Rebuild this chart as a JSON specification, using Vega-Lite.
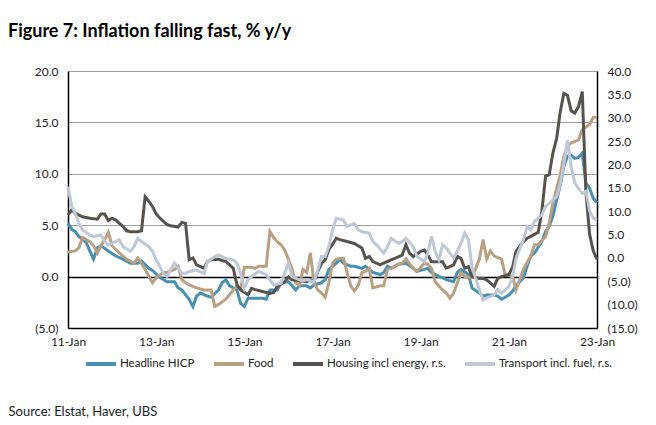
{
  "$schema": "https://vega.github.io/schema/vega-lite/v6.json",
  "width": 529,
  "height": 257,
  "autosize": {"type": "none"},
  "padding": {"left": 68, "top": 71, "right": 59, "bottom": 97},
  "background": "white",
  "config": {
    "font": "Lato",
    "view": {"stroke": null},
    "axis": {"labelFont": "Lato", "labelFontSize": 12, "labelColor": "#222", "ticks": false, "domainColor": "#000", "domainWidth": 1.5, "titleFont": "Lato"}
  },
  "title": {"text": "Figure 7: Inflation falling fast, % y/y", "anchor": "start", "frame": "group", "dx": -60, "offset": 24, "fontSize": 18, "fontWeight": "bold", "font": "Lato", "color": "#000"},
  "encoding": {
    "x": {
      "field": "d", "type": "temporal",
      "scale": {"domain": [{"year": 2011, "month": 1, "date": 1}, {"year": 2023, "month": 1, "date": 1}]},
      "axis": {
        "values": [{"year": 2011, "month": 1, "date": 1}, {"year": 2013, "month": 1, "date": 1}, {"year": 2015, "month": 1, "date": 1}, {"year": 2017, "month": 1, "date": 1}, {"year": 2019, "month": 1, "date": 1}, {"year": 2021, "month": 1, "date": 1}, {"year": 2023, "month": 1, "date": 1}],
        "format": "%y-%b", "labelPadding": 8, "grid": false, "labelOverlap": false, "labelFlush": false,
        "title": "Source: Elstat, Haver, UBS", "titleX": -60, "titleY": 87, "titleAlign": "left", "titleAnchor": "start",
        "titleBaseline": "alphabetic", "titleFontSize": 13, "titleFontWeight": "normal", "titleColor": "#222"
      }
    }
  },
  "layer": [
    {
      "encoding": {
        "y": {
          "field": "v", "type": "quantitative",
          "scale": {"domain": [-5, 20], "nice": false, "zero": false},
          "axis": {
            "orient": "left", "values": [-5, 0, 5, 10, 15, 20], "title": null, "labelPadding": 10,
            "labelExpr": "datum.value < 0 ? '(' + format(-datum.value, '.1f') + ')' : format(datum.value, '.1f')",
            "grid": true,
            "gridColor": {"condition": {"test": "datum.value === 0", "value": "#000"}, "value": "#a0a0a0"},
            "gridWidth": {"condition": {"test": "datum.value === 0", "value": 1.5}, "value": 1}
          }
        }
      },
      "layer": [
        {
          "data": {"format": {"parse": {"d": "date:'%Y-%m'"}}, "values": [
            {"d":"2011-01","v":5.2},{"d":"2011-02","v":4.6},{"d":"2011-03","v":4.4},{"d":"2011-04","v":3.9},{"d":"2011-06","v":3.3},{"d":"2011-07","v":2.5},{"d":"2011-08","v":1.7},{"d":"2011-09","v":2.8},{"d":"2011-10","v":3.0},{"d":"2011-12","v":2.5},
            {"d":"2012-02","v":2.0},{"d":"2012-04","v":1.7},{"d":"2012-06","v":1.3},{"d":"2012-08","v":1.3},{"d":"2012-09","v":1.5},{"d":"2012-11","v":0.8},{"d":"2012-12","v":0.6},
            {"d":"2013-02","v":-0.1},{"d":"2013-04","v":-0.5},{"d":"2013-06","v":-0.5},{"d":"2013-07","v":-1.1},{"d":"2013-08","v":-1.3},{"d":"2013-10","v":-2.2},{"d":"2013-11","v":-2.9},{"d":"2013-12","v":-1.9},
            {"d":"2014-01","v":-1.6},{"d":"2014-03","v":-1.9},{"d":"2014-04","v":-2.0},{"d":"2014-06","v":-1.3},{"d":"2014-07","v":-0.6},{"d":"2014-08","v":-0.3},{"d":"2014-09","v":-0.9},{"d":"2014-11","v":-1.3},{"d":"2014-12","v":-2.6},
            {"d":"2015-01","v":-2.9},{"d":"2015-02","v":-2.1},{"d":"2015-04","v":-2.1},{"d":"2015-06","v":-2.1},{"d":"2015-07","v":-2.2},{"d":"2015-08","v":-1.3},{"d":"2015-10","v":-1.3},{"d":"2015-11","v":-0.6},
            {"d":"2016-01","v":-0.5},{"d":"2016-02","v":-0.9},{"d":"2016-03","v":-1.3},{"d":"2016-04","v":-0.9},{"d":"2016-06","v":-0.9},{"d":"2016-07","v":-1.1},{"d":"2016-08","v":-0.8},{"d":"2016-10","v":-0.6},{"d":"2016-11","v":-0.3},{"d":"2016-12","v":0.7},
            {"d":"2017-02","v":1.3},{"d":"2017-03","v":1.7},{"d":"2017-04","v":1.3},{"d":"2017-06","v":1.0},{"d":"2017-07","v":1.0},{"d":"2017-09","v":0.8},{"d":"2017-10","v":1.0},{"d":"2017-11","v":0.7},{"d":"2017-12","v":0.4},
            {"d":"2018-02","v":0.2},{"d":"2018-03","v":0.4},{"d":"2018-04","v":1.0},{"d":"2018-05","v":0.8},{"d":"2018-07","v":1.2},{"d":"2018-09","v":1.3},{"d":"2018-11","v":0.8},{"d":"2018-12","v":0.5},
            {"d":"2019-02","v":0.7},{"d":"2019-03","v":0.8},{"d":"2019-04","v":0.4},{"d":"2019-06","v":0.0},{"d":"2019-07","v":-0.1},{"d":"2019-08","v":-0.3},{"d":"2019-10","v":-0.5},{"d":"2019-11","v":0.4},{"d":"2019-12","v":0.7},
            {"d":"2020-02","v":0.2},{"d":"2020-03","v":-1.1},{"d":"2020-05","v":-1.6},{"d":"2020-06","v":-1.9},{"d":"2020-07","v":-1.8},{"d":"2020-09","v":-1.8},{"d":"2020-10","v":-1.9},{"d":"2020-11","v":-2.2},
            {"d":"2021-01","v":-1.8},{"d":"2021-02","v":-1.4},{"d":"2021-03","v":-0.9},{"d":"2021-05","v":-0.1},{"d":"2021-06","v":1.0},{"d":"2021-07","v":2.0},{"d":"2021-08","v":2.3},{"d":"2021-10","v":3.4},{"d":"2021-11","v":4.4},{"d":"2021-12","v":4.9},
            {"d":"2022-01","v":5.9},{"d":"2022-02","v":7.5},{"d":"2022-03","v":8.8},{"d":"2022-04","v":10.7},{"d":"2022-05","v":11.7},{"d":"2022-06","v":11.8},{"d":"2022-07","v":11.5},{"d":"2022-08","v":11.6},{"d":"2022-09","v":12.0},{"d":"2022-10","v":9.1},{"d":"2022-11","v":8.6},{"d":"2022-12","v":7.6},{"d":"2023-01","v":7.2}
          ]},
          "mark": {"type": "line", "strokeWidth": 3},
          "encoding": {
            "color": {
              "datum": "Headline HICP", "type": "nominal",
              "scale": {"domain": ["Headline HICP", "Food", "Housing incl energy, r.s.", "Transport incl. fuel, r.s."], "range": ["#4690b4", "#b8a080", "#57524c", "#bfc8d6"]},
              "legend": {"orient": "none", "legendX": 16, "legendY": 276, "direction": "horizontal", "title": null, "symbolType": "stroke", "symbolStrokeWidth": 4, "symbolSize": 900, "labelFontSize": 11.5, "labelFont": "Lato", "labelColor": "#222", "columnPadding": 11, "labelOffset": 2}
            }
          }
        },
        {
          "data": {"format": {"parse": {"d": "date:'%Y-%m'"}}, "values": [
            {"d":"2011-01","v":2.4},{"d":"2011-03","v":2.5},{"d":"2011-04","v":2.8},{"d":"2011-05","v":3.8},{"d":"2011-07","v":3.4},{"d":"2011-08","v":3.0},{"d":"2011-09","v":2.3},{"d":"2011-10","v":3.0},{"d":"2011-11","v":3.6},{"d":"2011-12","v":4.3},
            {"d":"2012-01","v":3.0},{"d":"2012-03","v":2.3},{"d":"2012-04","v":2.0},{"d":"2012-05","v":1.7},{"d":"2012-07","v":1.3},{"d":"2012-08","v":1.8},{"d":"2012-09","v":1.3},{"d":"2012-10","v":0.7},{"d":"2012-12","v":-0.6},
            {"d":"2013-01","v":-0.1},{"d":"2013-03","v":0.4},{"d":"2013-04","v":0.4},{"d":"2013-06","v":0.7},{"d":"2013-07","v":1.0},{"d":"2013-08","v":-0.3},{"d":"2013-09","v":-0.6},{"d":"2013-10","v":-0.8},{"d":"2013-12","v":-1.1},
            {"d":"2014-02","v":-1.3},{"d":"2014-04","v":-1.3},{"d":"2014-05","v":-2.9},{"d":"2014-06","v":-2.7},{"d":"2014-08","v":-2.2},{"d":"2014-10","v":-1.3},{"d":"2014-11","v":-0.9},{"d":"2014-12","v":-1.3},
            {"d":"2015-01","v":0.9},{"d":"2015-03","v":0.9},{"d":"2015-04","v":0.8},{"d":"2015-05","v":1.0},{"d":"2015-07","v":1.0},{"d":"2015-08","v":4.4},{"d":"2015-09","v":3.8},{"d":"2015-10","v":3.4},{"d":"2015-11","v":3.1},{"d":"2015-12","v":2.6},
            {"d":"2016-01","v":1.7},{"d":"2016-02","v":0.7},{"d":"2016-03","v":-0.6},{"d":"2016-04","v":-0.9},{"d":"2016-05","v":0.7},{"d":"2016-06","v":0.4},{"d":"2016-07","v":2.3},{"d":"2016-08","v":-0.6},{"d":"2016-09","v":-1.3},{"d":"2016-10","v":-1.6},{"d":"2016-11","v":-2.0},{"d":"2016-12","v":-0.6},
            {"d":"2017-01","v":1.3},{"d":"2017-02","v":1.7},{"d":"2017-04","v":1.8},{"d":"2017-05","v":0.4},{"d":"2017-06","v":-0.9},{"d":"2017-07","v":-1.4},{"d":"2017-08","v":-0.9},{"d":"2017-09","v":0.4},{"d":"2017-10","v":0.5},{"d":"2017-11","v":0.8},{"d":"2017-12","v":-1.1},
            {"d":"2018-02","v":-0.9},{"d":"2018-03","v":-0.9},{"d":"2018-04","v":0.7},{"d":"2018-05","v":0.8},{"d":"2018-07","v":1.2},{"d":"2018-08","v":1.3},{"d":"2018-09","v":1.7},{"d":"2018-11","v":0.8},{"d":"2018-12","v":0.5},
            {"d":"2019-02","v":1.3},{"d":"2019-03","v":1.2},{"d":"2019-04","v":0.8},{"d":"2019-05","v":-0.5},{"d":"2019-07","v":-1.3},{"d":"2019-08","v":-1.6},{"d":"2019-09","v":-2.1},{"d":"2019-10","v":-1.6},{"d":"2019-11","v":-0.6},{"d":"2019-12","v":0.4},
            {"d":"2020-01","v":0.0},{"d":"2020-03","v":-0.1},{"d":"2020-04","v":0.8},{"d":"2020-05","v":1.7},{"d":"2020-06","v":3.6},{"d":"2020-07","v":1.7},{"d":"2020-08","v":2.5},{"d":"2020-09","v":2.0},{"d":"2020-11","v":1.7},{"d":"2020-12","v":0.2},
            {"d":"2021-02","v":0.0},{"d":"2021-03","v":-1.3},{"d":"2021-04","v":-0.3},{"d":"2021-05","v":0.7},{"d":"2021-07","v":2.0},{"d":"2021-08","v":3.1},{"d":"2021-09","v":3.1},{"d":"2021-11","v":3.9},{"d":"2021-12","v":5.2},
            {"d":"2022-01","v":7.2},{"d":"2022-03","v":9.8},{"d":"2022-04","v":11.7},{"d":"2022-05","v":12.7},{"d":"2022-06","v":13.0},{"d":"2022-08","v":13.3},{"d":"2022-09","v":14.3},{"d":"2022-11","v":14.8},{"d":"2022-12","v":15.5},{"d":"2023-01","v":15.5}
          ]},
          "mark": {"type": "line", "strokeWidth": 3},
          "encoding": {"color": {"datum": "Food", "type": "nominal"}}
        }
      ]
    },
    {
      "encoding": {
        "y": {
          "field": "v", "type": "quantitative",
          "scale": {"domain": [-15, 40], "nice": false, "zero": false},
          "axis": {
            "orient": "right", "values": [-15, -10, -5, 0, 5, 10, 15, 20, 25, 30, 35, 40], "title": null, "labelPadding": 10, "grid": false,
            "labelExpr": "datum.value < 0 ? '(' + format(-datum.value, '.1f') + ')' : format(datum.value, '.1f')"
          }
        }
      },
      "layer": [
        {
          "data": {"format": {"parse": {"d": "date:'%Y-%m'"}}, "values": [
            {"d":"2011-01","v":9.2},{"d":"2011-02","v":10.3},{"d":"2011-03","v":9.6},{"d":"2011-05","v":8.8},{"d":"2011-07","v":8.5},{"d":"2011-09","v":8.3},{"d":"2011-10","v":9.4},{"d":"2011-11","v":9.4},{"d":"2011-12","v":8.0},
            {"d":"2012-01","v":8.5},{"d":"2012-02","v":8.1},{"d":"2012-04","v":6.7},{"d":"2012-05","v":5.8},{"d":"2012-06","v":5.6},{"d":"2012-08","v":5.6},{"d":"2012-09","v":5.8},{"d":"2012-10","v":13.1},{"d":"2012-11","v":12.1},{"d":"2012-12","v":11.0},
            {"d":"2013-01","v":9.4},{"d":"2013-02","v":8.5},{"d":"2013-04","v":7.1},{"d":"2013-05","v":6.9},{"d":"2013-07","v":6.6},{"d":"2013-08","v":7.6},{"d":"2013-09","v":7.4},{"d":"2013-10","v":-0.4},{"d":"2013-11","v":0.0},{"d":"2013-12","v":-1.5},
            {"d":"2014-02","v":-2.2},{"d":"2014-03","v":-0.8},{"d":"2014-04","v":-0.4},{"d":"2014-06","v":-0.3},{"d":"2014-08","v":-0.8},{"d":"2014-09","v":-1.5},{"d":"2014-10","v":-2.2},{"d":"2014-11","v":-5.8},{"d":"2014-12","v":-6.8},
            {"d":"2015-02","v":-7.9},{"d":"2015-03","v":-6.5},{"d":"2015-04","v":-6.8},{"d":"2015-06","v":-7.2},{"d":"2015-08","v":-7.6},{"d":"2015-09","v":-7.4},{"d":"2015-10","v":-6.1},{"d":"2015-12","v":-5.1},
            {"d":"2016-01","v":-4.1},{"d":"2016-02","v":-4.7},{"d":"2016-04","v":-4.9},{"d":"2016-06","v":-5.1},{"d":"2016-07","v":-4.7},{"d":"2016-08","v":-5.1},{"d":"2016-09","v":-2.9},{"d":"2016-10","v":-1.2},{"d":"2016-11","v":-0.4},{"d":"2016-12","v":1.7},
            {"d":"2017-02","v":4.2},{"d":"2017-03","v":3.9},{"d":"2017-05","v":3.5},{"d":"2017-07","v":3.1},{"d":"2017-09","v":2.1},{"d":"2017-10","v":-0.1},{"d":"2017-11","v":0.3},{"d":"2017-12","v":-0.8},
            {"d":"2018-02","v":-1.5},{"d":"2018-03","v":-1.1},{"d":"2018-05","v":-0.4},{"d":"2018-06","v":-0.1},{"d":"2018-08","v":0.6},{"d":"2018-09","v":2.8},{"d":"2018-10","v":1.0},{"d":"2018-11","v":0.3},
            {"d":"2019-01","v":1.4},{"d":"2019-02","v":1.7},{"d":"2019-03","v":0.6},{"d":"2019-04","v":-0.8},{"d":"2019-06","v":-0.8},{"d":"2019-07","v":-0.8},{"d":"2019-08","v":-2.2},{"d":"2019-10","v":-1.5},{"d":"2019-11","v":0.3},{"d":"2019-12","v":-0.1},
            {"d":"2020-01","v":-2.2},{"d":"2020-02","v":-1.9},{"d":"2020-03","v":-4.0},{"d":"2020-05","v":-4.4},{"d":"2020-06","v":-4.4},{"d":"2020-07","v":-4.7},{"d":"2020-09","v":-6.1},{"d":"2020-10","v":-4.4},{"d":"2020-11","v":-4.0},
            {"d":"2021-01","v":-3.6},{"d":"2021-02","v":-1.9},{"d":"2021-03","v":1.4},{"d":"2021-05","v":3.5},{"d":"2021-06","v":4.2},{"d":"2021-07","v":4.6},{"d":"2021-09","v":5.5},{"d":"2021-10","v":10.0},{"d":"2021-11","v":17.5},{"d":"2021-12","v":17.8},
            {"d":"2022-01","v":22.5},{"d":"2022-02","v":25.6},{"d":"2022-03","v":31.0},{"d":"2022-04","v":35.2},{"d":"2022-05","v":34.8},{"d":"2022-06","v":31.5},{"d":"2022-07","v":31.0},{"d":"2022-08","v":32.4},{"d":"2022-09","v":35.6},{"d":"2022-10","v":14.0},{"d":"2022-11","v":5.0},{"d":"2022-12","v":1.5},{"d":"2023-01","v":-0.3}
          ]},
          "mark": {"type": "line", "strokeWidth": 3},
          "encoding": {"color": {"datum": "Housing incl energy, r.s.", "type": "nominal"}}
        },
        {
          "data": {"format": {"parse": {"d": "date:'%Y-%m'"}}, "values": [
            {"d":"2011-01","v":15.3},{"d":"2011-02","v":11.0},{"d":"2011-03","v":9.6},{"d":"2011-04","v":7.4},{"d":"2011-05","v":6.0},{"d":"2011-07","v":4.9},{"d":"2011-08","v":4.6},{"d":"2011-10","v":4.9},{"d":"2011-11","v":3.5},{"d":"2011-12","v":2.8},
            {"d":"2012-02","v":3.5},{"d":"2012-03","v":3.9},{"d":"2012-04","v":2.4},{"d":"2012-06","v":1.4},{"d":"2012-07","v":2.4},{"d":"2012-08","v":4.2},{"d":"2012-09","v":3.5},{"d":"2012-11","v":2.4},{"d":"2012-12","v":1.4},
            {"d":"2013-01","v":-0.4},{"d":"2013-03","v":-3.3},{"d":"2013-04","v":-4.0},{"d":"2013-05","v":-2.5},{"d":"2013-06","v":-1.1},{"d":"2013-08","v":-3.3},{"d":"2013-09","v":-3.3},{"d":"2013-10","v":-2.9},{"d":"2013-12","v":-2.6},
            {"d":"2014-02","v":-3.3},{"d":"2014-03","v":-0.8},{"d":"2014-05","v":0.3},{"d":"2014-06","v":0.6},{"d":"2014-08","v":-0.1},{"d":"2014-10","v":-0.4},{"d":"2014-11","v":-1.1},{"d":"2014-12","v":-3.3},
            {"d":"2015-01","v":-6.5},{"d":"2015-02","v":-4.7},{"d":"2015-03","v":-4.0},{"d":"2015-05","v":-2.9},{"d":"2015-07","v":-3.6},{"d":"2015-08","v":-4.7},{"d":"2015-09","v":-5.8},{"d":"2015-11","v":-5.4},{"d":"2015-12","v":-3.3},
            {"d":"2016-01","v":-1.1},{"d":"2016-02","v":-4.0},{"d":"2016-04","v":-4.7},{"d":"2016-05","v":-4.9},{"d":"2016-06","v":-4.7},{"d":"2016-08","v":-5.1},{"d":"2016-09","v":-2.6},{"d":"2016-10","v":0.3},{"d":"2016-11","v":0.3},{"d":"2016-12","v":2.4},
            {"d":"2017-01","v":6.0},{"d":"2017-02","v":8.5},{"d":"2017-04","v":8.1},{"d":"2017-05","v":6.7},{"d":"2017-07","v":7.4},{"d":"2017-08","v":6.0},{"d":"2017-09","v":5.6},{"d":"2017-11","v":5.3},{"d":"2017-12","v":3.5},
            {"d":"2018-01","v":2.8},{"d":"2018-03","v":1.0},{"d":"2018-04","v":2.4},{"d":"2018-05","v":4.2},{"d":"2018-07","v":3.1},{"d":"2018-08","v":3.5},{"d":"2018-09","v":4.2},{"d":"2018-11","v":2.4},{"d":"2018-12","v":0.3},
            {"d":"2019-02","v":-0.8},{"d":"2019-03","v":1.0},{"d":"2019-04","v":4.6},{"d":"2019-05","v":1.4},{"d":"2019-06","v":-0.4},{"d":"2019-07","v":2.8},{"d":"2019-08","v":2.1},{"d":"2019-09","v":1.0},{"d":"2019-10","v":-0.1},{"d":"2019-12","v":3.1},
            {"d":"2020-01","v":5.3},{"d":"2020-02","v":3.9},{"d":"2020-03","v":-1.9},{"d":"2020-05","v":-6.8},{"d":"2020-06","v":-9.0},{"d":"2020-07","v":-8.6},{"d":"2020-09","v":-7.9},{"d":"2020-10","v":-6.8},{"d":"2020-11","v":-7.6},
            {"d":"2021-01","v":-6.1},{"d":"2021-02","v":-4.0},{"d":"2021-03","v":-0.1},{"d":"2021-05","v":3.9},{"d":"2021-06","v":6.7},{"d":"2021-07","v":6.0},{"d":"2021-08","v":7.8},{"d":"2021-10","v":9.2},{"d":"2021-11","v":11.0},{"d":"2021-12","v":11.7},
            {"d":"2022-02","v":13.1},{"d":"2022-03","v":15.6},{"d":"2022-04","v":20.0},{"d":"2022-05","v":25.2},{"d":"2022-06","v":19.5},{"d":"2022-07","v":16.0},{"d":"2022-08","v":14.9},{"d":"2022-09","v":13.8},{"d":"2022-10","v":14.2},{"d":"2022-11","v":10.0},{"d":"2022-12","v":8.5},{"d":"2023-01","v":8.1}
          ]},
          "mark": {"type": "line", "strokeWidth": 3},
          "encoding": {"color": {"datum": "Transport incl. fuel, r.s.", "type": "nominal"}}
        }
      ]
    }
  ],
  "resolve": {"scale": {"y": "independent"}}
}
